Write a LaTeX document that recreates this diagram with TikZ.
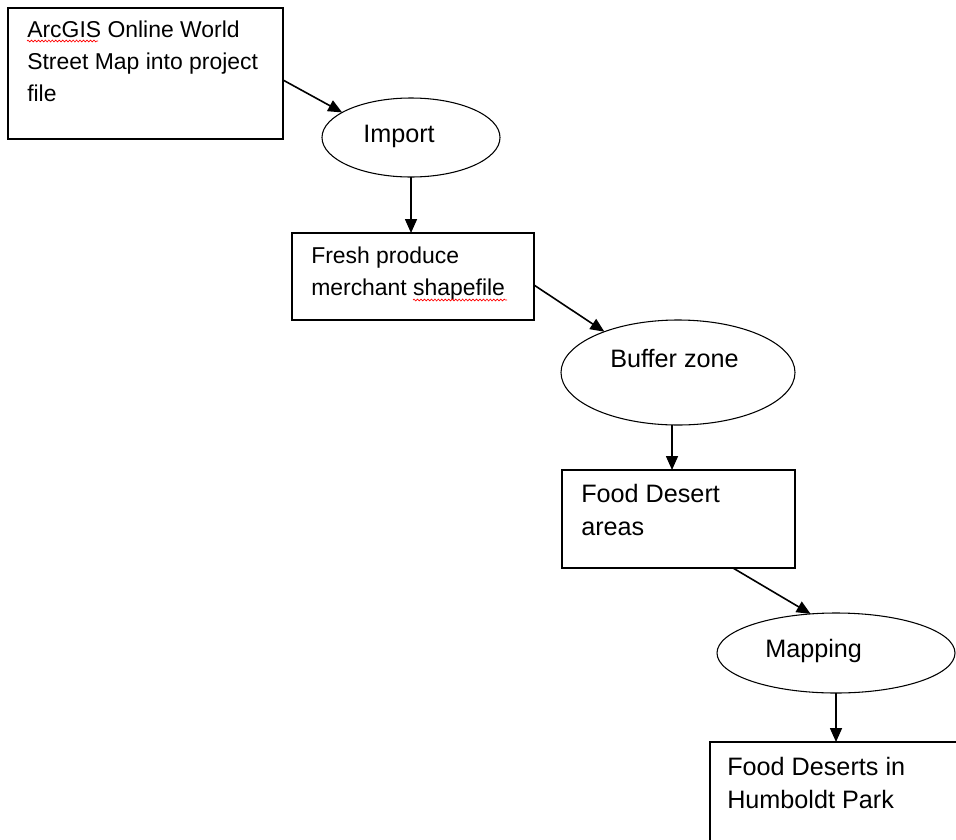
\documentclass[tikz,border=0pt]{standalone}
\usepackage{fontspec}
\setmainfont{Liberation Sans}
\usetikzlibrary{arrows.meta,shapes.geometric,calc,decorations.pathmorphing}
\begin{document}
\begin{tikzpicture}[x=0.75pt,y=-0.75pt,
  box/.style={draw, line width=1.3pt, rectangle, inner sep=0pt, outer sep=0pt, anchor=north west},
  oval/.style={draw, line width=0.8pt, ellipse, inner sep=0pt, outer sep=0pt},
  txt/.style={font=\fontsize{17.2pt}{24pt}\selectfont, align=left, anchor=base west, inner sep=0pt, text=black},
  txtL/.style={txt, font=\fontsize{18.9pt}{24.6pt}\selectfont},
  arr/.style={line width=1.2pt, -{Triangle[length=10.5pt,width=9pt]}},
  squig/.style={red, line width=0.5pt, decorate, decoration={snake, amplitude=0.7pt, segment length=2.6pt}}
]
\useasboundingbox (0,0) rectangle (956,839);
\clip (0,0) rectangle (956,839);

% boxes
\node[box, minimum width=206.25pt, minimum height=98.25pt] (b1) at (8,8) {};
\node[box, minimum width=181.5pt, minimum height=65.25pt] (b2) at (292,233) {};
\node[box, minimum width=174.75pt, minimum height=73.5pt] (b3) at (562,470) {};
\node[box, minimum width=195pt, minimum height=90pt] (b4) at (710,742) {};

% ellipses
\node[oval, minimum width=133.5pt, minimum height=59.25pt] (imp) at (411,137.5) {};
\node[oval, minimum width=175.5pt, minimum height=78.75pt] (buf) at (678,372.5) {};
\node[oval, minimum width=178.5pt, minimum height=60pt] (map) at (836,653) {};

% texts (base anchor = baseline of last line)
\node[txt] (t1) at (27,101) {ArcGIS Online World\\Street Map into project\\file};
\node[txt] (t2) at (311,295) {Fresh produce\\merchant shapefile};
\node[txtL] (t3) at (581,535) {Food Desert\\areas};
\node[txtL] (t4) at (727,808) {Food Deserts in\\Humboldt Park};
\node[txtL] (timp) at (363,142) {Import};
\node[txtL] (tbuf) at (610,367) {Buffer zone};
\node[txtL] (tmap) at (765,657) {Mapping};

% spell-check squiggles
\draw[squig] (27,41) -- (98,41);
\draw[squig] (413,300) -- (507,300);

% connectors
\draw[arr] ($(b1.east)+(0,6.5)$) -- (imp.160);
\draw[arr] (imp.south) -- (imp.south |- b2.north);
\draw[arr] ($(b2.east)+(0,8.5)$) -- (buf.151);
\coordinate (bs) at ($(buf.south)+(-6,0)$);
\draw[arr] (bs) -- (bs |- b3.north);
\draw[arr] ($(b3.south)+(54.5,0)$) -- (map.123);
\draw[arr] (map.south) -- (map.south |- b4.north);
\end{tikzpicture}
\end{document}
